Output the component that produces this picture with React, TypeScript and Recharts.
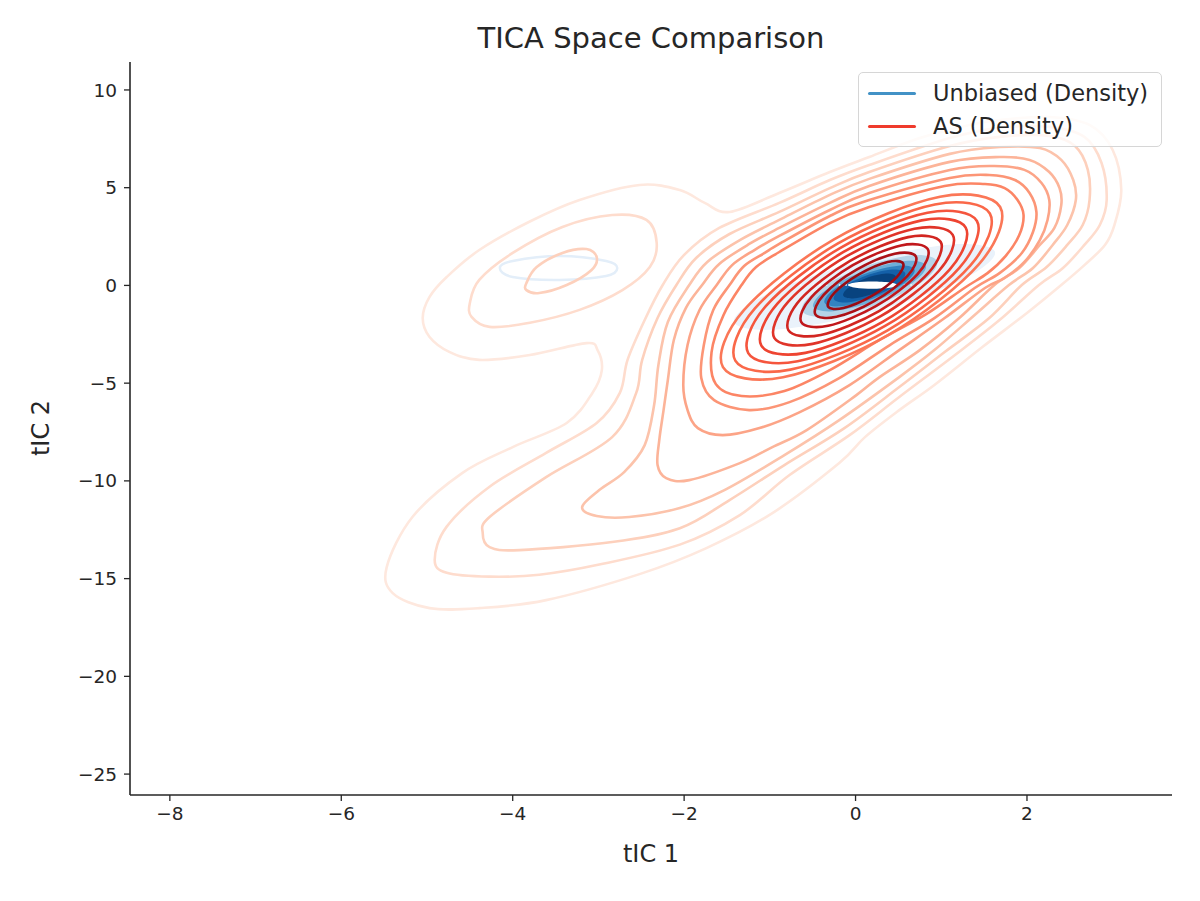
import { ScatterChart, Scatter, XAxis, YAxis } from 'recharts';

type Pt = [number, number];

const xTicks = [-8, -6, -4, -2, 0, 2];
const yTicks = [-25, -20, -15, -10, -5, 0, 5, 10];

// Unbiased density (Blues), outer to inner
const unbiasedHaze: Pt[] = [[1.627, 1.706], [1.236, 0.274], [0.184, -1.367], [-0.915, -2.255], [-1.417, -1.87], [-1.026, -0.438], [0.027, 1.203], [1.125, 2.091]];
const unbiased1: Pt[] = [[0.952, 1.229], [0.777, 0.18], [0.243, -0.993], [-0.338, -1.602], [-0.626, -1.291], [-0.451, -0.242], [0.083, 0.931], [0.664, 1.54]];
const unbiased2: Pt[] = [[0.821, 1.019], [0.673, 0.168], [0.227, -0.8], [-0.257, -1.317], [-0.495, -1.081], [-0.347, -0.23], [0.099, 0.738], [0.583, 1.255]];
const unbiased3: Pt[] = [[0.689, 0.809], [0.572, 0.121], [0.215, -0.656], [-0.172, -1.067], [-0.363, -0.871], [-0.246, -0.183], [0.111, 0.594], [0.498, 1.005]];
const unbiased4: Pt[] = [[0.58, 0.634], [0.489, 0.065], [0.207, -0.56], [-0.101, -0.875], [-0.254, -0.696], [-0.163, -0.127], [0.119, 0.498], [0.427, 0.813]];
const unbiased5: Pt[] = [[0.47, 0.459], [0.404, 0.026], [0.197, -0.44], [-0.03, -0.667], [-0.144, -0.521], [-0.078, -0.088], [0.129, 0.378], [0.356, 0.605]];
const unbiasedPeak: Pt[] = [[0.49, 0.02], [0.4, 0.15], [0.198, 0.2], [0.0, 0.15], [-0.09, 0.02], [0.0, -0.12], [0.198, -0.17], [0.4, -0.12]];
const unbiasedRidge: Pt[] = [[-0.65, 0.02], [1.1, 0.02]];
const unbiasedLeft: Pt[] = [[-4.15, 0.89], [-4.0, 1.25], [-3.45, 1.5], [-2.91, 1.25], [-2.78, 0.89], [-2.91, 0.48], [-3.45, 0.28], [-4.0, 0.43]];

// AS density (Reds), level 1 is the outermost
const asLevel1: Pt[] = [
  [-4.97, -2.64], [-5.05, -1.67], [-4.97, -0.59], [-4.77, 0.43], [-4.39, 1.81], [-3.8, 3.27], [-3.22, 4.37], [-2.52, 5.14], [-2.05, 4.88],
  [-1.76, 4.22], [-1.47, 3.76], [-0.89, 4.73], [-0.3, 5.8], [0.16, 6.57], [0.75, 7.54], [1.33, 8.21], [1.68, 8.46],
  [2.26, 8.62], [2.73, 8.21], [3.0, 6.93], [3.1, 4.88], [3.02, 3.09], [2.91, 2.07], [2.67, 1.04], [2.4, 0.02],
  [2.0, -1.41], [1.48, -3.15], [0.92, -5.09], [0.51, -6.38], [0.11, -7.76], [-0.19, -9.09], [-0.97, -11.65], [-1.74, -13.44],
  [-2.52, -14.77], [-3.61, -16.1], [-4.39, -16.51], [-4.97, -16.51], [-5.4, -15.74], [-5.47, -14.41], [-5.17, -11.85], [-4.59, -9.6],
  [-4.0, -8.27], [-3.37, -7.04], [-3.07, -5.5], [-2.96, -4.33], [-3.01, -3.31], [-3.14, -2.95], [-3.8, -3.56], [-4.39, -3.81], [-4.74, -3.4],
];
const asLevel2Left: Pt[] = [[-4.5, -0.9], [-4.39, 0.28], [-4.0, 1.66], [-3.42, 2.99], [-2.84, 3.6], [-2.44, 3.35], [-2.32, 2.17], [-2.4, 0.94], [-2.72, -0.24], [-3.22, -1.25], [-3.8, -1.91], [-4.27, -2.12], [-4.48, -1.61]];
const asLevel2: Pt[] = [
  [-2.25, 0.02], [-2.0, 1.56], [-1.59, 2.94], [-0.89, 4.22], [-0.3, 5.39], [0.16, 6.16], [1.1, 7.54], [1.68, 8.06], [2.26, 8.11],
  [2.67, 7.6], [2.87, 6.26], [2.93, 4.37], [2.85, 3.09], [2.67, 2.07], [2.42, 0.89], [2.14, 0.02], [1.68, -1.77], [1.16, -3.56],
  [0.51, -5.71], [-0.07, -7.66], [-0.77, -9.7], [-1.35, -11.75], [-2.05, -13.26], [-2.99, -14.28], [-3.69, -14.8], [-4.27, -14.9],
  [-4.77, -14.7], [-4.91, -14.03], [-4.77, -12.34], [-4.27, -10.3], [-3.61, -8.57], [-3.02, -7.04], [-2.75, -5.5], [-2.66, -3.81], [-2.46, -1.77],
];
const asLevel3Left: Pt[] = [[-3.84, 0.12], [-3.72, 0.94], [-3.42, 1.66], [-3.14, 1.86], [-3.02, 1.45], [-3.08, 0.79], [-3.37, 0.02], [-3.69, -0.39], [-3.84, -0.24]];
const asLevel3: Pt[] = [
  [-2.09, 0.02], [-1.86, 1.4], [-1.47, 2.63], [-0.89, 3.76], [-0.3, 4.98], [0.16, 5.8], [1.1, 7.13], [1.68, 7.6], [2.26, 7.65],
  [2.56, 7.13], [2.71, 5.91], [2.73, 4.37], [2.65, 3.09], [2.47, 2.07], [2.23, 0.94], [1.94, 0.02], [1.56, -1.67], [1.04, -3.41],
  [0.51, -5.2], [-0.13, -7.3], [-0.83, -9.19], [-1.47, -10.98], [-2.05, -12.42], [-2.84, -13.13], [-3.92, -13.54], [-4.27, -13.39],
  [-4.35, -12.67], [-4.27, -11.85], [-3.61, -9.81], [-2.84, -7.76], [-2.56, -5.51], [-2.49, -3.82], [-2.31, -1.67],
];
const asLevel4: Pt[] = [
  [-1.94, 0.02], [-1.73, 1.2], [-1.35, 2.32], [-0.89, 3.35], [-0.3, 4.63], [0.16, 5.45], [1.1, 6.73], [1.68, 7.08], [2.15, 7.03],
  [2.4, 6.42], [2.54, 5.39], [2.57, 4.37], [2.47, 3.09], [2.3, 2.07], [2.07, 0.89], [1.79, 0.02], [1.39, -1.51], [0.92, -3.31],
  [0.51, -4.69], [-0.19, -6.89], [-0.83, -8.68], [-1.53, -10.47], [-2.05, -11.39], [-2.64, -11.85], [-3.02, -11.8], [-3.19, -11.34],
  [-2.99, -10.47], [-2.7, -9.55], [-2.46, -8.17], [-2.35, -6.12], [-2.3, -4.07], [-2.19, -1.87],
];
const asLevel5: Pt[] = [
  [-1.79, 0.02], [-1.59, 1.1], [-1.24, 2.12], [-0.89, 2.94], [-0.3, 4.22], [0.16, 5.09], [1.1, 6.32], [1.68, 6.57], [2.03, 6.42],
  [2.26, 5.8], [2.38, 4.98], [2.4, 4.11], [2.32, 2.94], [2.15, 2.07], [1.91, 0.89], [1.62, 0.02], [1.21, -1.67], [0.75, -3.31],
  [0.28, -4.69], [0.01, -5.61], [-0.57, -7.4], [-0.97, -8.27], [-1.35, -9.09], [-1.94, -9.96], [-2.21, -9.86], [-2.31, -9.19],
  [-2.29, -7.91], [-2.24, -6.38], [-2.19, -4.84], [-2.12, -2.79], [-1.98, -1.16],
];
const asLevel6: Pt[] = [
  [-1.62, 0.02], [-1.44, 1.04], [-1.18, 1.81], [-0.89, 2.53], [-0.3, 3.86], [0.16, 4.73], [1.1, 5.91], [1.62, 6.11], [1.97, 5.91],
  [2.17, 5.24], [2.26, 4.37], [2.24, 3.35], [2.15, 2.32], [1.97, 1.2], [1.74, 0.38], [1.51, -0.13], [1.04, -1.67], [0.51, -3.31],
  [-0.07, -5.1], [-0.65, -6.48], [-1.12, -7.3], [-1.55, -7.66], [-1.84, -7.3], [-1.96, -6.38], [-2.01, -5.1], [-1.96, -3.05], [-1.82, -1.26],
];
const asLevel7: Pt[] = [
  [-1.47, 0.02], [-1.3, 0.99], [-1.06, 1.66], [-0.89, 2.12], [-0.3, 3.55], [0.16, 4.37], [1.1, 5.5], [1.56, 5.65], [1.86, 5.39],
  [2.03, 4.73], [2.11, 3.76], [2.07, 2.73], [1.94, 1.66], [1.68, 0.63], [1.39, -0.13], [0.92, -1.67], [0.4, -3.05], [-0.19, -4.74],
  [-0.77, -5.97], [-1.24, -6.38], [-1.65, -5.87], [-1.8, -4.74], [-1.77, -3.05], [-1.66, -1.26],
];
const asLevel8: Pt[] = [
  [-1.33, 0.02], [-1.16, 0.94], [-0.89, 1.71], [-0.3, 3.19], [0.16, 4.01], [1.04, 5.09], [1.51, 5.19], [1.74, 4.98], [1.89, 4.37],
  [1.96, 3.6], [1.91, 2.58], [1.75, 1.5], [1.54, 0.63], [1.27, -0.13], [0.81, -1.51], [0.28, -2.79], [-0.3, -4.33], [-0.83, -5.4],
  [-1.33, -5.66], [-1.63, -5.05], [-1.68, -3.41], [-1.54, -1.51],
];
const asLevel9: Pt[] = [[1.687, 4.012], [1.44, 1.089], [0.391, -2.52], [-0.846, -4.7], [-1.547, -4.176], [-1.3, -1.253], [-0.251, 2.356], [0.986, 4.536]];
const asLevel10: Pt[] = [[1.567, 3.68], [1.338, 1.011], [0.374, -2.298], [-0.761, -4.308], [-1.403, -3.844], [-1.174, -1.175], [-0.21, 2.134], [0.925, 4.144]];
const asLevel11: Pt[] = [[1.416, 3.296], [1.211, 0.896], [0.345, -2.076], [-0.675, -3.88], [-1.252, -3.46], [-1.047, -1.06], [-0.181, 1.912], [0.839, 3.716]];
const asLevel12: Pt[] = [[1.285, 2.959], [1.1, 0.821], [0.326, -1.834], [-0.585, -3.45], [-1.099, -3.081], [-0.914, -0.943], [-0.14, 1.712], [0.771, 3.328]];
const asLevel13: Pt[] = [[1.134, 2.59], [0.971, 0.737], [0.294, -1.575], [-0.501, -2.991], [-0.948, -2.682], [-0.785, -0.829], [-0.108, 1.483], [0.687, 2.899]];
const asLevel14: Pt[] = [[0.994, 2.221], [0.853, 0.653], [0.274, -1.316], [-0.404, -2.532], [-0.784, -2.283], [-0.643, -0.715], [-0.064, 1.254], [0.614, 2.47]];
const asLevel15: Pt[] = [[0.843, 1.858], [0.724, 0.574], [0.242, -1.052], [-0.32, -2.067], [-0.633, -1.878], [-0.514, -0.594], [-0.032, 1.032], [0.53, 2.047]];
const asLevel16: Pt[] = [[0.703, 1.489], [0.606, 0.49], [0.222, -0.793], [-0.223, -1.608], [-0.469, -1.479], [-0.372, -0.48], [0.012, 0.803], [0.457, 1.618]];
const asLevel17: Pt[] = [[0.555, 1.128], [0.478, 0.412], [0.19, -0.534], [-0.141, -1.155], [-0.321, -1.088], [-0.244, -0.372], [0.044, 0.574], [0.375, 1.195]];

const reds = [
  '#fee8de', '#fedccd', '#fdd0bc', '#fcc3ab', '#fcb499', '#fca487', '#fc9576', '#fc8565', '#fb7757',
  '#fa6849', '#f5553d', '#ee4431', '#e03429', '#d22621', '#c1181c', '#ac1117', '#9a0c14',
];

const asLevels: { name: string; pts: Pt[]; level: number }[] = [
  { name: 'as1', pts: asLevel1, level: 0 },
  { name: 'as2l', pts: asLevel2Left, level: 1 },
  { name: 'as2', pts: asLevel2, level: 1 },
  { name: 'as3l', pts: asLevel3Left, level: 2 },
  { name: 'as3', pts: asLevel3, level: 2 },
  { name: 'as4', pts: asLevel4, level: 3 },
  { name: 'as5', pts: asLevel5, level: 4 },
  { name: 'as6', pts: asLevel6, level: 5 },
  { name: 'as7', pts: asLevel7, level: 6 },
  { name: 'as8', pts: asLevel8, level: 7 },
  { name: 'as9', pts: asLevel9, level: 8 },
  { name: 'as10', pts: asLevel10, level: 9 },
  { name: 'as11', pts: asLevel11, level: 10 },
  { name: 'as12', pts: asLevel12, level: 11 },
  { name: 'as13', pts: asLevel13, level: 12 },
  { name: 'as14', pts: asLevel14, level: 13 },
  { name: 'as15', pts: asLevel15, level: 14 },
  { name: 'as16', pts: asLevel16, level: 15 },
  { name: 'as17', pts: asLevel17, level: 16 },
];

const blueFills: { name: string; pts: Pt[]; color: string }[] = [
  { name: 'ub0', pts: unbiasedHaze, color: '#eaf2fb' },
  { name: 'ub1', pts: unbiased1, color: '#b5d4e9' },
  { name: 'ub2', pts: unbiased2, color: '#6eaed8' },
  { name: 'ub3', pts: unbiased3, color: '#3383c0' },
  { name: 'ub4', pts: unbiased4, color: '#1460a8' },
  { name: 'ub5', pts: unbiased5, color: '#08437f' },
  { name: 'ubp', pts: unbiasedPeak, color: '#ffffff' },
];

// closed Catmull-Rom spline so each contour is a smooth loop
const closedSpline = (ctx: any) => {
  let pts: number[][] = [];
  return {
    areaStart() {},
    areaEnd() {},
    lineStart() {
      pts = [];
    },
    point(x: number, y: number) {
      pts.push([+x, +y]);
    },
    lineEnd() {
      const n = pts.length;
      if (!n) return;
      ctx.moveTo(pts[0][0], pts[0][1]);
      for (let i = 0; i < n; i++) {
        const p0 = pts[(i + n - 1) % n];
        const p1 = pts[i];
        const p2 = pts[(i + 1) % n];
        const p3 = pts[(i + 2) % n];
        ctx.bezierCurveTo(
          p1[0] + (p2[0] - p0[0]) / 6, p1[1] + (p2[1] - p0[1]) / 6,
          p2[0] - (p3[0] - p1[0]) / 6, p2[1] - (p3[1] - p1[1]) / 6,
          p2[0], p2[1],
        );
      }
      ctx.closePath();
    },
  };
};

const noDot = () => <g />;
const toData = (pts: Pt[]) => pts.map(([x, y]) => ({ x, y }));
const fmt = (v: number) => String(v).replace('-', '\u2212');

const axisColor = '#262626';
const font = 'DejaVu Sans, sans-serif';

export default function App() {
  return (
    <div style={{ position: 'absolute', left: 0, top: 0, width: 1200, height: 901, background: '#fff', fontFamily: font }}>
      <ScatterChart width={1200} height={901} margin={{ top: 62, right: 28, bottom: 56, left: 50 }}>
        <XAxis
          type="number"
          dataKey="x"
          domain={[-8.465, 3.692]}
          allowDataOverflow
          ticks={xTicks}
          tickFormatter={fmt}
          height={50}
          tickSize={6}
          tickMargin={6}
          stroke={axisColor}
          axisLine={{ stroke: axisColor, strokeWidth: 1.6 }}
          tickLine={{ stroke: axisColor, strokeWidth: 1.3 }}
          tick={{ fill: axisColor, fontSize: 18.5, fontFamily: font }}
        />
        <YAxis
          type="number"
          dataKey="y"
          domain={[-26.07, 11.43]}
          allowDataOverflow
          ticks={yTicks}
          tickFormatter={fmt}
          width={80}
          tickSize={6}
          tickMargin={7}
          stroke={axisColor}
          axisLine={{ stroke: axisColor, strokeWidth: 1.6 }}
          tickLine={{ stroke: axisColor, strokeWidth: 1.3 }}
          tick={{ fill: axisColor, fontSize: 18.5, fontFamily: font }}
        />
        {blueFills.map((b) => (
          <Scatter
            key={b.name}
            data={toData(b.pts)}
            fill={b.color}
            shape={noDot}
            line={{ stroke: 'none', fill: b.color }}
            lineJointType={closedSpline as any}
            isAnimationActive={false}
          />
        ))}
        <Scatter
          data={toData(unbiasedRidge)}
          fill="#ffffff"
          shape={noDot}
          line={{ stroke: '#ffffff', strokeWidth: 1.6, strokeDasharray: '1.5 5' }}
          lineJointType="linear"
          isAnimationActive={false}
        />
        <Scatter
          data={toData(unbiasedLeft)}
          fill="#e3eef9"
          shape={noDot}
          line={{ stroke: '#e3eef9', strokeWidth: 2.5, fill: 'none' }}
          lineJointType={closedSpline as any}
          isAnimationActive={false}
        />
        {asLevels.map((c) => (
          <Scatter
            key={c.name}
            data={toData(c.pts)}
            fill={reds[c.level]}
            shape={noDot}
            line={{ stroke: reds[c.level], strokeWidth: 2.6, fill: 'none' }}
            lineJointType={closedSpline as any}
            isAnimationActive={false}
          />
        ))}
      </ScatterChart>

      <div style={{ position: 'absolute', left: 0, width: 1302, top: 24, textAlign: 'center', fontSize: 29, lineHeight: 1, color: axisColor }}>
        TICA Space Comparison
      </div>
      <div style={{ position: 'absolute', left: 0, width: 1302, top: 842, textAlign: 'center', fontSize: 24, lineHeight: 1, color: axisColor }}>
        tIC 1
      </div>
      <div
        style={{
          position: 'absolute', left: 41, top: 428, fontSize: 24, lineHeight: 1, color: axisColor,
          transform: 'translate(-50%, -50%) rotate(-90deg)', whiteSpace: 'nowrap',
        }}
      >
        tIC 2
      </div>

      <div
        style={{
          position: 'absolute', left: 858, top: 72, width: 304, height: 75, boxSizing: 'border-box',
          border: '1.5px solid #d6d6d6', borderRadius: 5, background: 'rgba(255,255,255,0.8)',
        }}
      >
        {[
          { label: 'Unbiased (Density)', color: '#4292c6', top: 9 },
          { label: 'AS (Density)', color: '#ef3b2c', top: 42 },
        ].map((it) => (
          <div key={it.label} style={{ position: 'absolute', left: 9, top: it.top, height: 22, display: 'flex', alignItems: 'center' }}>
            <div style={{ width: 48, height: 3, background: it.color, borderRadius: 1.5 }} />
            <span style={{ marginLeft: 17, fontSize: 22.5, color: axisColor, whiteSpace: 'nowrap' }}>{it.label}</span>
          </div>
        ))}
      </div>
    </div>
  );
}
